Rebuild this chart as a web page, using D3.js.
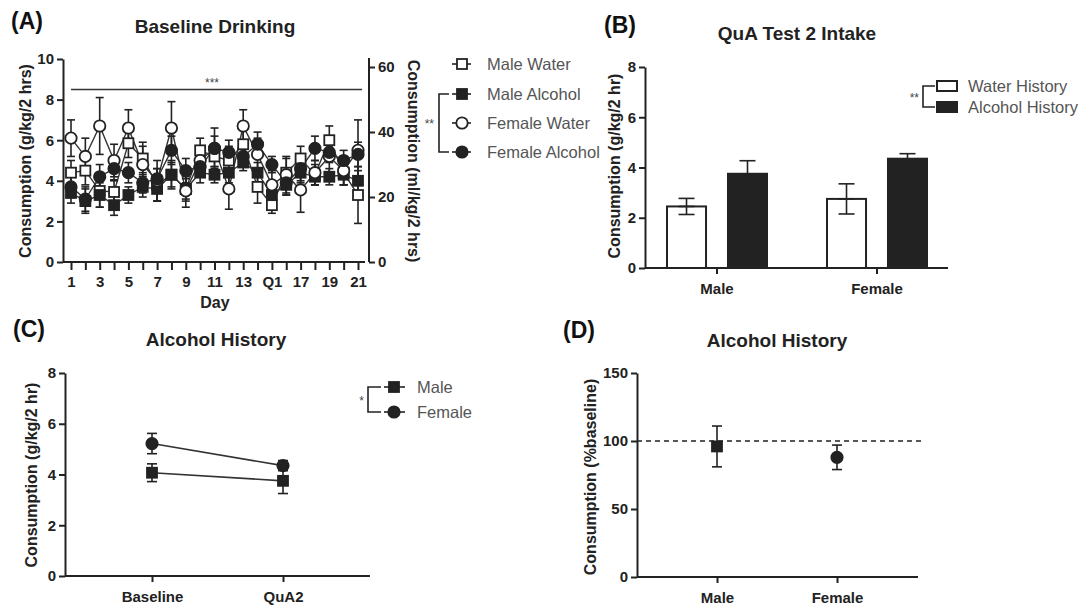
<!DOCTYPE html>
<html>
<head>
<meta charset="utf-8">
<script src="https://cdn.jsdelivr.net/npm/d3@7"></script>
<style>
  body { margin: 0; background: #fff; }
  svg { font-family: "Liberation Sans", Arial, sans-serif; }
  .axis path, .axis line { stroke: #222; stroke-width: 2; }
  .axis text { font-size: 15px; font-weight: bold; fill: #222; }
  .ttl { font-size: 19px; font-weight: bold; fill: #222; }
  .lab { font-size: 16px; font-weight: bold; fill: #222; }
  .letter { font-size: 23px; font-weight: bold; fill: #111; }
  .leg { font-size: 16.5px; fill: #555; }
  .sig { font-size: 12px; fill: #444; }
</style>
</head>
<body>
<div id="chart"></div>
<script>
// ---- Panel A: baseline drinking (21 days) ----
const days = [1, 2, 3, 4, 5, 6, 7, 8, 9, 10, 11, 12, 13, 14, 15, 16, 17, 18, 19, 20, 21];
const dayLabels = ['1', '', '3', '', '5', '', '7', '', '9', '', '11', '', '13', '', 'Q1', '', '17', '', '19', '', '21'];
const maleWater = [4.4, 4.5, 3.5, 3.45, 5.85, 5.1, 3.8, 4.3, 3.6, 5.5, 5.2, 5.0, 5.8, 3.7, 2.8, 4.4, 5.1, 4.3, 6.0, 4.4, 3.3];
const maleWaterErr = [0.6, 0.7, 0.8, 0.6, 0.7, 0.8, 0.8, 0.7, 0.6, 0.6, 0.5, 0.7, 0.7, 0.8, 0.4, 0.7, 0.6, 0.5, 0.7, 0.6, 1.4];
const maleAlcohol = [3.4, 3.0, 3.3, 2.8, 3.3, 3.7, 3.6, 4.3, 3.6, 4.4, 4.3, 4.4, 4.9, 4.4, 3.3, 3.8, 4.4, 4.2, 4.2, 4.3, 4.0];
const maleAlcoholErr = [0.5, 0.6, 0.6, 0.5, 0.4, 0.5, 0.6, 0.6, 0.5, 0.5, 0.4, 0.5, 0.4, 0.5, 0.4, 0.5, 0.5, 0.4, 0.4, 0.5, 0.5];
const femaleWater = [6.1, 5.2, 6.7, 5.0, 6.6, 4.8, 4.0, 6.6, 3.5, 5.0, 5.6, 3.6, 6.7, 5.3, 3.8, 4.3, 3.55, 4.4, 5.2, 4.5, 5.5];
const femaleWaterErr = [0.9, 0.9, 1.4, 0.8, 0.9, 0.9, 1.0, 1.3, 0.8, 0.6, 1.0, 1.0, 0.8, 0.8, 0.7, 0.9, 1.1, 0.6, 0.9, 0.7, 1.5];
const femaleAlcohol = [3.7, 3.1, 4.2, 4.6, 4.4, 3.9, 4.1, 5.5, 4.5, 4.7, 5.6, 5.4, 5.2, 5.8, 4.8, 3.9, 4.6, 5.6, 5.4, 5.0, 5.3];
const femaleAlcoholErr = [0.5, 0.6, 0.6, 0.6, 0.5, 0.5, 0.5, 0.7, 0.6, 0.5, 0.6, 0.6, 0.5, 0.6, 0.4, 0.6, 0.6, 0.6, 0.5, 0.5, 0.6];
const seriesNamesA = ['Male Water', 'Male Alcohol', 'Female Water', 'Female Alcohol'];

// ---- Panel B: QuA test 2 intake ----
const sexes = ['Male', 'Female'];
const historyGroups = ['Water History', 'Alcohol History'];
const waterHistory = [2.45, 2.75];
const waterHistoryErr = [0.32, 0.6];
const alcoholHistory = [3.75, 4.35];
const alcoholHistoryErr = [0.52, 0.2];

// ---- Panel C: alcohol history, baseline vs QuA2 ----
const phases = ['Baseline', 'QuA2'];
const maleC = [4.07, 3.75];
const maleCErr = [0.35, 0.5];
const femaleC = [5.22, 4.35];
const femaleCErr = [0.4, 0.2];

// ---- Panel D: % baseline ----
const pctBaseline = [96, 88];
const pctBaselineErr = [15, 9];
const refLine = 100;

const svg = d3.select('#chart').append('svg').attr('width', 1087).attr('height', 608);
const ink = '#222';

function marker(g, shape, filled, x, y, s) {
  if (shape === 'square') {
    g.append('rect').attr('x', x - s / 2).attr('y', y - s / 2).attr('width', s).attr('height', s)
      .attr('fill', filled ? ink : '#fff').attr('stroke', ink).attr('stroke-width', 1.8);
  } else {
    g.append('circle').attr('cx', x).attr('cy', y).attr('r', s / 2 + 0.7)
      .attr('fill', filled ? ink : '#fff').attr('stroke', ink).attr('stroke-width', 1.8);
  }
}

function errBar(g, x, y0, y1, cap) {
  g.append('line').attr('x1', x).attr('x2', x).attr('y1', y0).attr('y2', y1).attr('stroke', ink).attr('stroke-width', 1.6);
  [y0, y1].forEach(y => g.append('line').attr('x1', x - cap).attr('x2', x + cap).attr('y1', y).attr('y2', y)
    .attr('stroke', ink).attr('stroke-width', 1.6));
}

// =========== Panel A ===========
{
  const g = svg.append('g');
  const x = d3.scaleLinear().domain([1, 21]).range([71, 358]);
  const y = d3.scaleLinear().domain([0, 10]).range([262, 59]);
  const y2 = d3.scaleLinear().domain([0, 60]).range([262, 67]);

  g.append('g').attr('class', 'axis').attr('transform', 'translate(0,262)')
    .call(d3.axisBottom(x).tickValues(days).tickFormat((d, i) => dayLabels[i]).tickSize(8).tickSizeOuter(0))
    .call(a => a.select('.domain').attr('d', 'M63,0H365'))
    .call(a => a.selectAll('.tick text').attr('dy', '0.95em'));
  g.append('g').attr('class', 'axis').attr('transform', 'translate(63,0)')
    .call(d3.axisLeft(y).ticks(5).tickSize(6).tickSizeOuter(0));
  g.append('g').attr('class', 'axis').attr('transform', 'translate(369,0)')
    .call(d3.axisRight(y2).tickValues([0, 20, 40, 60]).tickSize(6).tickSizeOuter(0))
    .call(a => a.select('.domain').attr('d', 'M0,262V58'));

  const series = [
    { v: maleWater, e: maleWaterErr, shape: 'square', filled: false },
    { v: maleAlcohol, e: maleAlcoholErr, shape: 'square', filled: true },
    { v: femaleWater, e: femaleWaterErr, shape: 'circle', filled: false },
    { v: femaleAlcohol, e: femaleAlcoholErr, shape: 'circle', filled: true }
  ];
  const line = d3.line().x((d, i) => x(days[i])).y(d => y(d));
  series.forEach(s => {
    s.v.forEach((v, i) => errBar(g, x(days[i]), y(v - s.e[i]), y(v + s.e[i]), 4));
    g.append('path').attr('d', line(s.v)).attr('fill', 'none').attr('stroke', '#333').attr('stroke-width', 1.4);
  });
  series.forEach(s => s.v.forEach((v, i) => marker(g, s.shape, s.filled, x(days[i]), y(v), 10)));

  // significance line
  g.append('line').attr('x1', x(1)).attr('x2', 362).attr('y1', y(8.5)).attr('y2', y(8.5)).attr('stroke', '#333').attr('stroke-width', 1.6);
  g.append('text').attr('class', 'sig').attr('x', 212).attr('y', y(8.5) - 2).attr('text-anchor', 'middle').text('***');

  g.append('text').attr('class', 'letter').attr('x', 11).attr('y', 29).text('(A)');
  g.append('text').attr('class', 'ttl').attr('x', 215).attr('y', 33).attr('text-anchor', 'middle').text('Baseline Drinking');
  g.append('text').attr('class', 'lab').attr('x', 215).attr('y', 308).attr('text-anchor', 'middle').text('Day');
  g.append('text').attr('class', 'lab').attr('transform', 'translate(31,161) rotate(-90)').attr('text-anchor', 'middle').text('Consumption (g/kg/2 hrs)');
  g.append('text').attr('class', 'lab').attr('transform', 'translate(408,161) rotate(90)').attr('text-anchor', 'middle').text('Consumption (ml/kg/2 hrs)');

  // legend
  const ly = [64, 94, 123, 152];
  series.forEach((s, i) => {
    g.append('line').attr('x1', 452).attr('x2', 471).attr('y1', ly[i]).attr('y2', ly[i]).attr('stroke', ink).attr('stroke-width', 1.6);
    marker(g, s.shape, s.filled, 462, ly[i], 10);
    g.append('text').attr('class', 'leg').attr('x', 487).attr('y', ly[i] + 6).text(seriesNamesA[i]);
  });
  g.append('path').attr('d', `M449,${ly[1]}H439V${ly[3]}H449`).attr('fill', 'none').attr('stroke', ink).attr('stroke-width', 1.6);
  g.append('text').attr('class', 'sig').attr('x', 434).attr('y', ly[2] + 5).attr('text-anchor', 'end').text('**');
}

// =========== Panel B ===========
{
  const g = svg.append('g');
  const x0 = d3.scaleBand().domain(sexes).range([637, 957]).paddingInner(0.375).paddingOuter(0.1875);
  const x1 = d3.scaleBand().domain(historyGroups).range([0, x0.bandwidth()]).paddingInner(0.36).paddingOuter(0);
  const y = d3.scaleLinear().domain([0, 8]).range([268, 67]);

  g.append('g').attr('class', 'axis').attr('transform', 'translate(0,268)')
    .call(d3.axisBottom(x0).tickSize(6).tickSizeOuter(0))
    .call(a => a.select('.domain').attr('d', 'M645,0H948'))
    .call(a => a.selectAll('.tick text').attr('dy', '1.1em'));
  g.append('g').attr('class', 'axis').attr('transform', 'translate(645,0)')
    .call(d3.axisLeft(y).ticks(4).tickSize(6).tickSizeOuter(0));

  const vals = [waterHistory, alcoholHistory];
  const errs = [waterHistoryErr, alcoholHistoryErr];
  sexes.forEach((sx, i) => {
    historyGroups.forEach((hg, j) => {
      const bx = x0(sx) + x1(hg);
      const v = vals[j][i], e = errs[j][i];
      errBar(g, bx + x1.bandwidth() / 2, y(v - e), y(v + e), 8);
      g.append('rect').attr('x', bx).attr('y', y(v)).attr('width', x1.bandwidth()).attr('height', y(0) - y(v))
        .attr('fill', j === 0 ? '#fff' : ink).attr('stroke', ink).attr('stroke-width', 2);
      if (j === 0) errBar(g, bx + x1.bandwidth() / 2, y(v - e), y(v), 8);
    });
  });

  g.append('text').attr('class', 'letter').attr('x', 604).attr('y', 33).text('(B)');
  g.append('text').attr('class', 'ttl').attr('x', 797).attr('y', 40).attr('text-anchor', 'middle').text('QuA Test 2 Intake');
  g.append('text').attr('class', 'lab').attr('transform', 'translate(620,166) rotate(-90)').attr('text-anchor', 'middle').text('Consumption (g/kg/2 hr)');

  const ly = [86, 107];
  historyGroups.forEach((hg, i) => {
    g.append('rect').attr('x', 937).attr('y', ly[i] - 5).attr('width', 20).attr('height', 10)
      .attr('fill', i === 0 ? '#fff' : ink).attr('stroke', ink).attr('stroke-width', 2);
    g.append('text').attr('class', 'leg').attr('x', 968).attr('y', ly[i] + 6).text(hg);
  });
  g.append('path').attr('d', `M935,${ly[0]}H923V${ly[1]}H935`).attr('fill', 'none').attr('stroke', ink).attr('stroke-width', 1.6);
  g.append('text').attr('class', 'sig').attr('x', 919).attr('y', ly[0] + 16).attr('text-anchor', 'end').text('**');
}

// =========== Panel C ===========
{
  const g = svg.append('g');
  const x = d3.scalePoint().domain(phases).range([152, 283]);
  const y = d3.scaleLinear().domain([0, 8]).range([576, 373]);

  g.append('g').attr('class', 'axis').attr('transform', 'translate(0,576)')
    .call(d3.axisBottom(x).tickSize(6).tickSizeOuter(0))
    .call(a => a.select('.domain').attr('d', 'M65,0H370'))
    .call(a => a.selectAll('.tick text').attr('dy', '1.1em'));
  g.append('g').attr('class', 'axis').attr('transform', 'translate(65,0)')
    .call(d3.axisLeft(y).ticks(4).tickSize(6).tickSizeOuter(0));

  const series = [
    { v: maleC, e: maleCErr, shape: 'square', name: 'Male' },
    { v: femaleC, e: femaleCErr, shape: 'circle', name: 'Female' }
  ];
  const line = d3.line().x((d, i) => x(phases[i])).y(d => y(d));
  series.forEach(s => {
    s.v.forEach((v, i) => errBar(g, x(phases[i]), y(v - s.e[i]), y(v + s.e[i]), 5));
    g.append('path').attr('d', line(s.v)).attr('fill', 'none').attr('stroke', '#333').attr('stroke-width', 1.6);
    s.v.forEach((v, i) => marker(g, s.shape, true, x(phases[i]), y(v), 10));
  });

  g.append('text').attr('class', 'letter').attr('x', 13).attr('y', 337).text('(C)');
  g.append('text').attr('class', 'ttl').attr('x', 216).attr('y', 346).attr('text-anchor', 'middle').text('Alcohol History');
  g.append('text').attr('class', 'lab').attr('transform', 'translate(37,475) rotate(-90)').attr('text-anchor', 'middle').text('Consumption (g/kg/2 hr)');

  const ly = [387, 412];
  series.forEach((s, i) => {
    g.append('line').attr('x1', 384).attr('x2', 405).attr('y1', ly[i]).attr('y2', ly[i]).attr('stroke', ink).attr('stroke-width', 1.6);
    marker(g, s.shape, true, 394, ly[i], 10);
    g.append('text').attr('class', 'leg').attr('x', 417).attr('y', ly[i] + 6).text(s.name);
  });
  g.append('path').attr('d', `M381,${ly[0]}H368V${ly[1]}H381`).attr('fill', 'none').attr('stroke', ink).attr('stroke-width', 1.6);
  g.append('text').attr('class', 'sig').attr('x', 364).attr('y', ly[0] + 18).attr('text-anchor', 'end').text('*');
}

// =========== Panel D ===========
{
  const g = svg.append('g');
  const x = d3.scalePoint().domain(sexes).range([717, 837]);
  const y = d3.scaleLinear().domain([0, 150]).range([577, 373]);

  g.append('g').attr('class', 'axis').attr('transform', 'translate(0,577)')
    .call(d3.axisBottom(x).tickSize(6).tickSizeOuter(0))
    .call(a => a.select('.domain').attr('d', 'M637,0H918'))
    .call(a => a.selectAll('.tick text').attr('dy', '1.1em'));
  g.append('g').attr('class', 'axis').attr('transform', 'translate(637,0)')
    .call(d3.axisLeft(y).tickValues([0, 50, 100, 150]).tickSize(6).tickSizeOuter(0));

  g.append('line').attr('x1', 637).attr('x2', 922).attr('y1', y(refLine)).attr('y2', y(refLine))
    .attr('stroke', ink).attr('stroke-width', 1.6).attr('stroke-dasharray', '5,4');

  sexes.forEach((sx, i) => {
    errBar(g, x(sx), y(pctBaseline[i] - pctBaselineErr[i]), y(pctBaseline[i] + pctBaselineErr[i]), 5);
    marker(g, i === 0 ? 'square' : 'circle', true, x(sx), y(pctBaseline[i]), 10);
  });

  g.append('text').attr('class', 'letter').attr('x', 563).attr('y', 338).text('(D)');
  g.append('text').attr('class', 'ttl').attr('x', 777).attr('y', 347).attr('text-anchor', 'middle').text('Alcohol History');
  g.append('text').attr('class', 'lab').attr('transform', 'translate(596,477) rotate(-90)').attr('text-anchor', 'middle').text('Consumption (%baseline)');
}
</script>
</body>
</html>
